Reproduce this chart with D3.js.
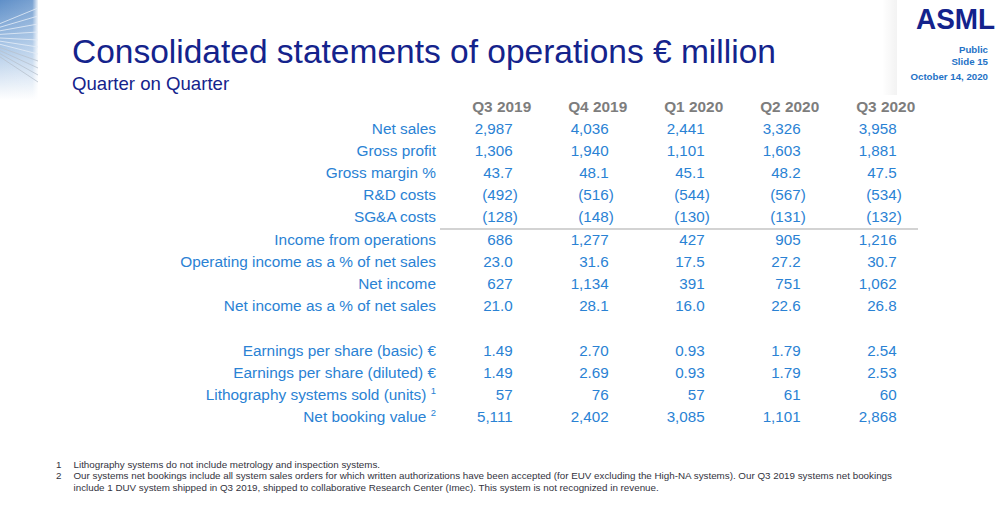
<!DOCTYPE html>
<html>
<head>
<meta charset="utf-8">
<script src="https://cdn.jsdelivr.net/npm/d3@7/dist/d3.min.js"></script>
<style>
  html, body { margin: 0; padding: 0; background: #ffffff; }
  svg { display: block; font-family: "Liberation Sans", Arial, sans-serif; }
</style>
</head>
<body>
<svg id="chart" width="1000" height="508"></svg>
<script>
// ---------- data ----------
const quarters = ["Q3 2019", "Q4 2019", "Q1 2020", "Q2 2020", "Q3 2020"];

const netSales           = [2987, 4036, 2441, 3326, 3958];
const grossProfit        = [1306, 1940, 1101, 1603, 1881];
const grossMargin        = [43.7, 48.1, 45.1, 48.2, 47.5];
const rdCosts            = [-492, -516, -544, -567, -534];
const sgaCosts           = [-128, -148, -130, -131, -132];
const incomeFromOps      = [686, 1277, 427, 905, 1216];
const opIncomePct        = [23.0, 31.6, 17.5, 27.2, 30.7];
const netIncome          = [627, 1134, 391, 751, 1062];
const netIncomePct       = [21.0, 28.1, 16.0, 22.6, 26.8];
const epsBasic           = [1.49, 2.70, 0.93, 1.79, 2.54];
const epsDiluted         = [1.49, 2.69, 0.93, 1.79, 2.53];
const systemsSold        = [57, 76, 57, 61, 60];
const netBookingValue    = [5111, 2402, 3085, 1101, 2868];

const rowLabels = [
  "Net sales", "Gross profit", "Gross margin %", "R&D costs", "SG&A costs",
  "Income from operations", "Operating income as a % of net sales",
  "Net income", "Net income as a % of net sales",
  "Earnings per share (basic) €", "Earnings per share (diluted) €",
  "Lithography systems sold (units)", "Net booking value"
];
const rowFootnoteMarks = ["", "", "", "", "", "", "", "", "", "", "", "1", "2"];
const rowFormats = ["int", "int", "pct", "int", "int", "int", "pct", "int", "pct", "eps", "eps", "int", "int"];
// slot index in the table (slot 9 is an empty spacer line)
const rowSlots = [0, 1, 2, 3, 4, 5, 6, 7, 8, 10, 11, 12, 13];

const footnoteNumbers = ["1", "2", ""];
const footnoteLines = [
  "Lithography systems do not include metrology and inspection systems.",
  "Our systems net bookings include all system sales orders for which written authorizations have been accepted (for EUV excluding the High-NA systems). Our Q3 2019 systems net bookings",
  "include 1 DUV system shipped in Q3 2019, shipped to collaborative Research Center (Imec). This system is not recognized in revenue."
];

const titleText = "Consolidated statements of operations € million";
const subtitleText = "Quarter on Quarter";
const metaLines = ["Public", "Slide 15", "October 14, 2020"];

// ---------- build table ----------
const rowValues = [netSales, grossProfit, grossMargin, rdCosts, sgaCosts, incomeFromOps,
  opIncomePct, netIncome, netIncomePct, epsBasic, epsDiluted, systemsSold, netBookingValue];

const rows = rowLabels.map((label, i) => ({
  label, mark: rowFootnoteMarks[i], fmt: rowFormats[i], slot: rowSlots[i], values: rowValues[i]
}));

// ---------- drawing ----------
const svg = d3.select("#chart");
const defs = svg.append("defs");

const NAVY = "#14238c";
const BLUE = "#2a82d4";
const GREY = "#7d7d7d";

// left decorative streak panel
const lg = defs.append("linearGradient").attr("id", "deco").attr("x1", 0).attr("y1", 0).attr("x2", 0).attr("y2", 1);
lg.append("stop").attr("offset", "0%").attr("stop-color", "#5f8fc8");
lg.append("stop").attr("offset", "45%").attr("stop-color", "#a9c6e6");
lg.append("stop").attr("offset", "100%").attr("stop-color", "#ffffff");
const lg2 = defs.append("linearGradient").attr("id", "decoH").attr("x1", 0).attr("y1", 0).attr("x2", 1).attr("y2", 0);
lg2.append("stop").attr("offset", "0%").attr("stop-color", "#ffffff").attr("stop-opacity", 0.0);
lg2.append("stop").attr("offset", "85%").attr("stop-color", "#ffffff").attr("stop-opacity", 0.15);
lg2.append("stop").attr("offset", "100%").attr("stop-color", "#ffffff").attr("stop-opacity", 0.9);
svg.append("rect").attr("x", 0).attr("y", 0).attr("width", 38).attr("height", 100).attr("fill", "url(#deco)");
svg.append("rect").attr("x", 0).attr("y", 0).attr("width", 38).attr("height", 100).attr("fill", "url(#decoH)");
const streakEnds = [8, 16, 24, 32, 40, 47, 54, 61, 68, 75, 82];
svg.append("g").selectAll("line").data(streakEnds).join("line")
  .attr("x1", 0).attr("y1", d => 20 + d * 0.45)
  .attr("x2", 38).attr("y2", d => d)
  .attr("stroke", (d, i) => i > 6 ? "#b9c3cf" : "#e6eef8")
  .attr("stroke-width", 1).attr("opacity", 0.8);

// faint shadow by the logo
const sg = defs.append("linearGradient").attr("id", "shadow").attr("x1", 0).attr("y1", 0).attr("x2", 1).attr("y2", 0);
sg.append("stop").attr("offset", "0%").attr("stop-color", "#000").attr("stop-opacity", 0);
sg.append("stop").attr("offset", "100%").attr("stop-color", "#000").attr("stop-opacity", 0.05);
svg.append("rect").attr("x", 882).attr("y", 0).attr("width", 15).attr("height", 95).attr("fill", "url(#shadow)");

// logo + meta
svg.append("text").attr("x", 995).attr("y", 29).attr("text-anchor", "end")
  .attr("font-size", 30).attr("font-weight", "bold").attr("fill", NAVY)
  .attr("textLength", 79).attr("lengthAdjust", "spacingAndGlyphs").text("ASML");
const metaY = [52.5, 64.5, 80];
svg.append("g").selectAll("text").data(metaLines).join("text")
  .attr("x", 988).attr("y", (d, i) => metaY[i]).attr("text-anchor", "end")
  .attr("font-size", 9.7).attr("font-weight", "bold").attr("fill", "#1f72c6").text(d => d);

// title
svg.append("text").attr("x", 72).attr("y", 63).attr("font-size", 33.5).attr("fill", NAVY).text(titleText);
svg.append("text").attr("x", 72).attr("y", 90).attr("font-size", 18.6).attr("fill", NAVY).text(subtitleText);

// scales
const x = d3.scalePoint().domain(quarters).range([512.7, 896.7]);
const y = d3.scaleLinear().domain([0, 13]).range([133.5, 133.5 + 22.2 * 13]);
const labelRight = 436;

// column headers
svg.append("g").selectAll("text").data(quarters).join("text")
  .attr("x", d => x(d) + 18.5).attr("y", 112).attr("text-anchor", "end")
  .attr("font-size", 15.4).attr("font-weight", "bold").attr("fill", GREY).text(d => d);

// separator under SG&A
svg.append("line").attr("x1", 440).attr("x2", 918).attr("y1", 229).attr("y2", 229)
  .attr("stroke", "#c4c4c4").attr("stroke-width", 1.5);

// row labels
const lab = svg.append("g").selectAll("text").data(rows).join("text")
  .attr("x", labelRight).attr("y", d => y(d.slot)).attr("text-anchor", "end")
  .attr("font-size", 15.4).attr("fill", BLUE);
lab.append("tspan").text(d => d.label + (d.mark ? " " : ""));
lab.filter(d => d.mark).append("tspan").attr("font-size", 9.5).attr("dy", -6).text(d => d.mark);

// values
const fmtInt = d3.format(",d");
const fmtPct = d3.format(".1f");
const fmtEps = d3.format(".2f");
function fmt(v, f) {
  const a = Math.abs(v);
  const s = f === "pct" ? fmtPct(a) : f === "eps" ? fmtEps(a) : fmtInt(a);
  return v < 0 ? "(" + s : s;
}
const cells = rows.flatMap(r => r.values.map((v, j) => ({ v, q: quarters[j], slot: r.slot, fmt: r.fmt })));
const vt = svg.append("g").selectAll("text").data(cells).join("text")
  .attr("x", d => x(d.q)).attr("y", d => y(d.slot)).attr("text-anchor", "end")
  .attr("font-size", 15.2).attr("fill", BLUE);
vt.append("tspan").text(d => fmt(d.v, d.fmt));
// closing bracket hangs past the number column
svg.append("g").selectAll("text").data(cells.filter(d => d.v < 0)).join("text")
  .attr("x", d => x(d.q)).attr("y", d => y(d.slot)).attr("text-anchor", "start")
  .attr("font-size", 15.2).attr("fill", BLUE).text(")");

// footnotes
const fnY = [467.5, 479.3, 491];
const fn = svg.append("g").attr("font-size", 9.8).attr("fill", "#333340");
fn.selectAll("text.num").data(footnoteNumbers).join("text").attr("class", "num")
  .attr("x", 56).attr("y", (d, i) => fnY[i]).text(d => d);
fn.selectAll("text.line").data(footnoteLines).join("text").attr("class", "line")
  .attr("x", 73.5).attr("y", (d, i) => fnY[i]).text(d => d);
</script>
</body>
</html>
